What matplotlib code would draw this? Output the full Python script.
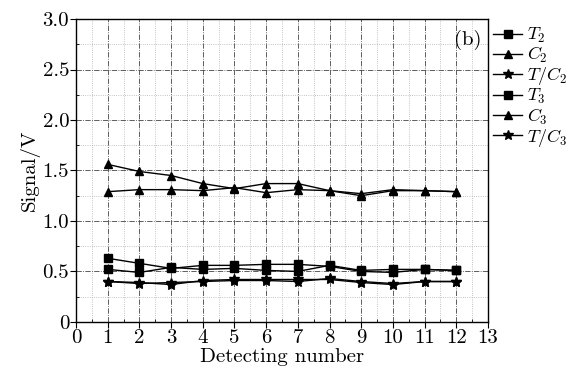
import matplotlib
matplotlib.use("Agg")
import matplotlib.pyplot as plt
from matplotlib.ticker import MultipleLocator, FuncFormatter

plt.rcParams['font.family'] = ['cmr10', 'DejaVu Serif']
plt.rcParams['mathtext.fontset'] = 'cm'
plt.rcParams['axes.formatter.use_mathtext'] = True

x = [1, 2, 3, 4, 5, 6, 7, 8, 9, 10, 11, 12]
T2 = [0.63, 0.58, 0.53, 0.56, 0.56, 0.57, 0.57, 0.55, 0.50, 0.49, 0.52, 0.51]
C2 = [1.56, 1.49, 1.45, 1.37, 1.32, 1.37, 1.37, 1.30, 1.27, 1.31, 1.30, 1.29]
TC2 = [0.40, 0.39, 0.37, 0.41, 0.42, 0.42, 0.42, 0.42, 0.39, 0.37, 0.40, 0.40]
T3 = [0.52, 0.49, 0.54, 0.52, 0.53, 0.51, 0.50, 0.56, 0.51, 0.52, 0.52, 0.51]
C3 = [1.29, 1.31, 1.31, 1.30, 1.33, 1.28, 1.31, 1.30, 1.25, 1.30, 1.30, 1.29]
TC3 = [0.40, 0.38, 0.39, 0.40, 0.41, 0.41, 0.40, 0.43, 0.40, 0.38, 0.40, 0.40]

series = [
    (T2, 's', r'$T_2$'),
    (C2, '^', r'$C_2$'),
    (TC2, '*', r'$T/C_2$'),
    (T3, 's', r'$T_3$'),
    (C3, '^', r'$C_3$'),
    (TC3, '*', r'$T/C_3$'),
]

fig = plt.figure(figsize=(5.72, 3.73), dpi=100)
ax = fig.add_axes([0.133, 0.137, 0.720, 0.812])

for vals, mk, lab in series:
    ms = 7.5 if mk == '*' else 5.5
    ax.plot(x, vals, color='black', lw=1.0, marker=mk, markersize=ms, label=lab)

ax.set_xlim(0, 13)
ax.set_ylim(0, 3.0)
ax.xaxis.set_major_locator(MultipleLocator(1))
ax.xaxis.set_minor_locator(MultipleLocator(0.5))
ax.yaxis.set_major_locator(MultipleLocator(0.5))
ax.yaxis.set_minor_locator(MultipleLocator(0.25))
ax.yaxis.set_major_formatter(FuncFormatter(lambda v, p: '0' if abs(v) < 1e-9 else f'{v:.1f}'))
ax.xaxis.set_major_formatter(FuncFormatter(lambda v, p: f'{int(round(v))}'))

ax.grid(which='major', color='#444444', linestyle='-.', linewidth=0.6)
ax.grid(which='minor', color='#b0b0b0', linestyle=':', linewidth=0.6)
ax.set_axisbelow(True)

ax.tick_params(which='major', direction='out', length=4, width=0.8, labelsize=15, pad=1)
ax.tick_params(which='minor', direction='in', length=2, width=0.6)
for s in ax.spines.values():
    s.set_linewidth(1.0)

ax.set_xlabel('Detecting number', fontsize=15, labelpad=1)
ax.set_ylabel('Signal/V', fontsize=15, labelpad=2)

ax.text(0.985, 0.965, '(b)', transform=ax.transAxes, ha='right', va='top', fontsize=15)

ax.legend(loc='upper left', bbox_to_anchor=(0.995, 1.0), frameon=False, fontsize=13,
          handlelength=1.6, handletextpad=0.3, labelspacing=0.0, borderaxespad=0.2,
          borderpad=0.2)

fig.savefig('out.png', dpi=100)
